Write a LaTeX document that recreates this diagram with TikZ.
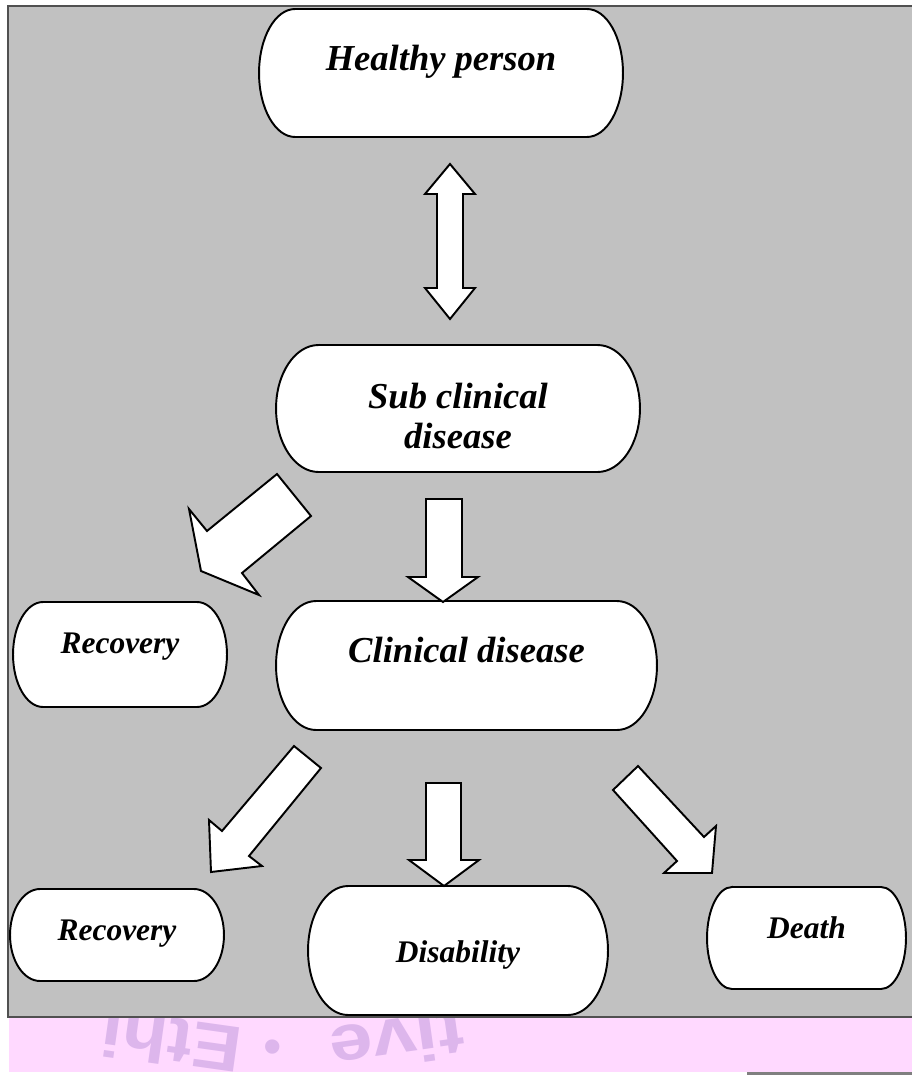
\documentclass[tikz,border=0pt]{standalone}
\usepackage{fontspec}
\setmainfont{Liberation Serif}
\newfontfamily\wmfont{Liberation Sans}
\usetikzlibrary{backgrounds}

\definecolor{boxgray}{RGB}{193,193,193}
\definecolor{boxline}{RGB}{80,80,80}
\definecolor{bandpink}{RGB}{255,217,255}
\definecolor{wmpurple}{RGB}{221,182,236}

\tikzset{
  term/.style={inner sep=0pt, outer sep=0pt, align=center,
    font=\bfseries\itshape\fontsize{20.8}{22.8}\selectfont},
  smallterm/.style={term, font=\bfseries\itshape\fontsize{17.9}{19.9}\selectfont},
  termline/.style={draw=black, fill=white, line width=1.1pt},
  blockarrow/.style={draw=black, fill=white, line width=1.1pt, line join=miter},
  wmark/.style={text=wmpurple, font=\wmfont\bfseries\fontsize{37}{37}\selectfont, inner sep=0pt}
}

% outline with half-elliptic ends: node, end radius, half height
\newcommand\termoutline[3]{%
  \draw[termline] ([xshift=#2]#1.north west) -- ([xshift=-#2]#1.north east)
    arc[start angle=90, end angle=-90, x radius=#2, y radius=#3]
    -- ([xshift=#2]#1.south west)
    arc[start angle=270, end angle=90, x radius=#2, y radius=#3] -- cycle;}

\begin{document}
\begin{tikzpicture}[x=0.02cm, y=-0.02cm]
\useasboundingbox (0,0) rectangle (912,1075);

% stages
\node[term, minimum width=7.28cm, minimum height=2.56cm, text height=0.5cm, text depth=0.62cm] (healthy) at (441,73) {Healthy person};
\node[term, minimum width=7.28cm, minimum height=2.54cm] (subclin) at (458,408.5) {\rule{0pt}{0.8cm}Sub clinical\\disease};
\node[term, minimum width=7.62cm, minimum height=2.58cm, text height=0.5cm, text depth=0.64cm] (clinical) at (466.5,665.5) {Clinical disease};
\node[smallterm, minimum width=4.28cm, minimum height=2.1cm, text height=0.44cm, text depth=0.5cm] (recup) at (120,654.5) {Recovery};
\node[smallterm, minimum width=4.28cm, minimum height=1.84cm, text height=0.44cm, text depth=0.24cm] (reclow) at (117,935) {Recovery};
\node[smallterm, minimum width=6cm, minimum height=2.58cm, text height=0.68cm, text depth=0.22cm] (disab) at (458,950.5) {Disability};
\node[smallterm, minimum width=3.98cm, minimum height=2.04cm, text height=0.44cm, text depth=0.44cm] (death) at (806.5,938) {Death};

% block arrows
\draw[blockarrow] (450,164) -- (475,194) -- (463,194) -- (463,288) -- (475,288) -- (450,319)
  -- (425,288) -- (437,288) -- (437,194) -- (425,194) -- cycle;
\draw[blockarrow] (426,499) -- (462,499) -- (462,577) -- (478,577) -- (443,602) -- (408,577) -- (426,577) -- cycle;
\draw[blockarrow] (277,474) -- (311,516) -- (242,573) -- (259,595) -- (201,571) -- (189,509) -- (207,531) -- cycle;
\draw[blockarrow] (294,746) -- (321,768) -- (249,856) -- (262,866) -- (211,872) -- (209,820) -- (222,831) -- cycle;
\draw[blockarrow] (426,783) -- (461,783) -- (461,860) -- (479,860) -- (444,886) -- (409,860) -- (426,860) -- cycle;
\draw[blockarrow] (638,766) -- (613,790) -- (677,861) -- (664,873) -- (712,873) -- (716,826) -- (704,837) -- cycle;

\begin{scope}[on background layer]
  \fill[bandpink] (9,1017) rectangle (912,1072);
  \begin{scope}
    \clip (9,1017) rectangle (912,1072);
    \node[wmark, rotate=172, anchor=base, xscale=1.15, transform shape] (wmleft) at (175,1019) {Ethi};
    \node[wmark, anchor=base, text height=0.6cm, text depth=0pt, font=\wmfont\fontsize{30}{30}\selectfont] (wmdot) at (273,1064) {•};
    \node[wmark, rotate=188, anchor=base, xscale=1.2, transform shape] (wmright) at (394,1019) {tive};
  \end{scope}
  \fill[gray] (747,1072) rectangle (912,1075);
  \fill[boxgray] (8,6) rectangle (914,1017);
  \draw[boxline, line width=1.3pt] (914,6) -- (8,6) -- (8,1017) -- (914,1017);
  \foreach \nd/\rx/\ry in {healthy/0.72cm/1.28cm, subclin/0.85cm/1.27cm, clinical/0.8cm/1.29cm,
      recup/0.6cm/1.05cm, reclow/0.6cm/0.92cm, disab/0.8cm/1.29cm, death/0.5cm/1.02cm}
    \termoutline{\nd}{\rx}{\ry};
\end{scope}

\end{tikzpicture}
\end{document}
